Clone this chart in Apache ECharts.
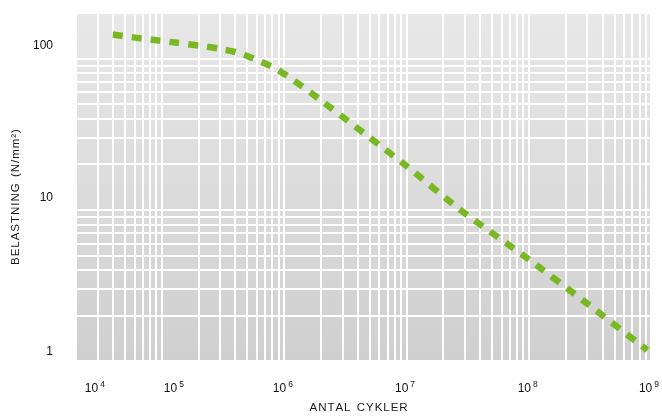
<!DOCTYPE html>
<html>
<head>
<meta charset="utf-8">
<script src="https://cdn.jsdelivr.net/npm/echarts@6/dist/echarts.min.js"></script>
<style>
html,body{margin:0;padding:0;background:#fff;}
#chart{width:662px;height:419px;}
</style>
</head>
<body>
<div id="chart"></div>
<script>
// ---- data (cycles N, stress S in N/mm2) ----
var cycles = [4.0e4, 6.3e4, 9.1e4, 1.35e5, 2.0e5, 3.0e5, 4.3e5, 6.0e5, 8.3e5, 1.14e6, 2.0e6, 1.0e7, 2.75e7, 1.0e8, 2.9e8, 9.3e8];
var stress = [144, 137, 132, 127, 122, 116, 109, 98, 87, 74, 53, 19.5, 10, 4.7, 2.45, 1.18];

// tick labels (as printed in the reference) and where they sit on the axis
var xTickLabels = ['4', '5', '6', '7', '8', '9'];          // exponents of 10
var xTickLabelPos = [2.85e4, 1.26e5, 9.8e5, 9.75e6, 9.8e7, 9.6e8];
var yTickLabels = ['100', '10', '1'];
var yTickLabelPos = [121, 12.0, 1.15];

// axis ranges
var xMin = 2e4, xMax = 1e9;
var yMin = 1, yMax = 200;

// log grid lines (1..9 x 10^k inside the axis range)
function logGrid(lo, hi) {
  var out = [];
  for (var e = -2; e <= 12; e++) {
    for (var m = 1; m <= 9; m++) {
      var v = m * Math.pow(10, e);
      if (v >= lo * 0.999 && v <= hi * 1.001) out.push(v);
    }
  }
  return out;
}
var xGridValues = logGrid(xMin, xMax);
var yGridValues = logGrid(yMin, yMax);

var seriesData = cycles.map(function (n, i) { return [n, stress[i]]; });

function nearestIndex(arr, v) {
  var best = 0, bd = Infinity;
  for (var i = 0; i < arr.length; i++) {
    var d = Math.abs(Math.log(arr[i]) - Math.log(v));
    if (d < bd) { bd = d; best = i; }
  }
  return best;
}
function spaced(s) { return s.split('').join('\u200A'); }

var font = '"Liberation Sans Narrow", "Liberation Sans", Arial, sans-serif';
var chart = echarts.init(document.getElementById('chart'), null, {renderer: 'canvas'});
chart.setOption({
  animation: false,
  backgroundColor: '#ffffff',
  grid: {
    left: 76, right: 8, top: 13, bottom: 56,
    show: true,
    borderWidth: 0,
    backgroundColor: {
      type: 'linear', x: 0, y: 0, x2: 0, y2: 1,
      colorStops: [{offset: 0, color: '#e8e8e8'}, {offset: 1, color: '#cfcfcf'}]
    }
  },
  xAxis: {
    type: 'log', logBase: 10, min: xMin, max: xMax,
    name: spaced('ANTAL') + '  ' + spaced('CYKLER'),
    nameLocation: 'middle', nameGap: 41,
    nameTextStyle: {fontFamily: font, fontSize: 11.5, color: '#1a1a1a', padding: [0, 10, 0, 0]},
    axisLine: {show: false},
    axisTick: {show: false, customValues: xGridValues},
    splitLine: {show: true, lineStyle: {color: '#ffffff', width: 2}},
    axisLabel: {
      customValues: xTickLabelPos,
      margin: 19,
      fontFamily: font, fontSize: 12, color: '#111',
      formatter: function (v) {
        return '{b|10}{s|' + xTickLabels[nearestIndex(xTickLabelPos, v)] + '}';
      },
      rich: {
        b: {fontFamily: font, fontSize: 12, color: '#111'},
        s: {fontFamily: font, fontSize: 8.5, color: '#111', padding: [0, 0, 9, 2]}
      }
    }
  },
  yAxis: {
    type: 'log', logBase: 10, min: yMin, max: yMax,
    name: spaced('BELASTNING') + '  ' + spaced('(N/mm²)'),
    nameLocation: 'middle', nameGap: 53, nameRotate: 90,
    nameTextStyle: {fontFamily: font, fontSize: 11.5, color: '#1a1a1a', padding: [0, 20, 0, 0]},
    axisLine: {show: false},
    axisTick: {show: false, customValues: yGridValues},
    splitLine: {show: true, lineStyle: {color: '#ffffff', width: 2}},
    axisLabel: {
      customValues: yTickLabelPos,
      margin: 23,
      fontFamily: font, fontSize: 12, color: '#111',
      formatter: function (v) {
        return yTickLabels[nearestIndex(yTickLabelPos, v)];
      }
    }
  },
  series: [{
    type: 'line',
    data: seriesData,
    showSymbol: false,
    smooth: 0.2,
    lineStyle: {color: '#7ab823', width: 6.5, type: [10, 9], cap: 'butt'}
  }]
});
</script>
</body>
</html>
